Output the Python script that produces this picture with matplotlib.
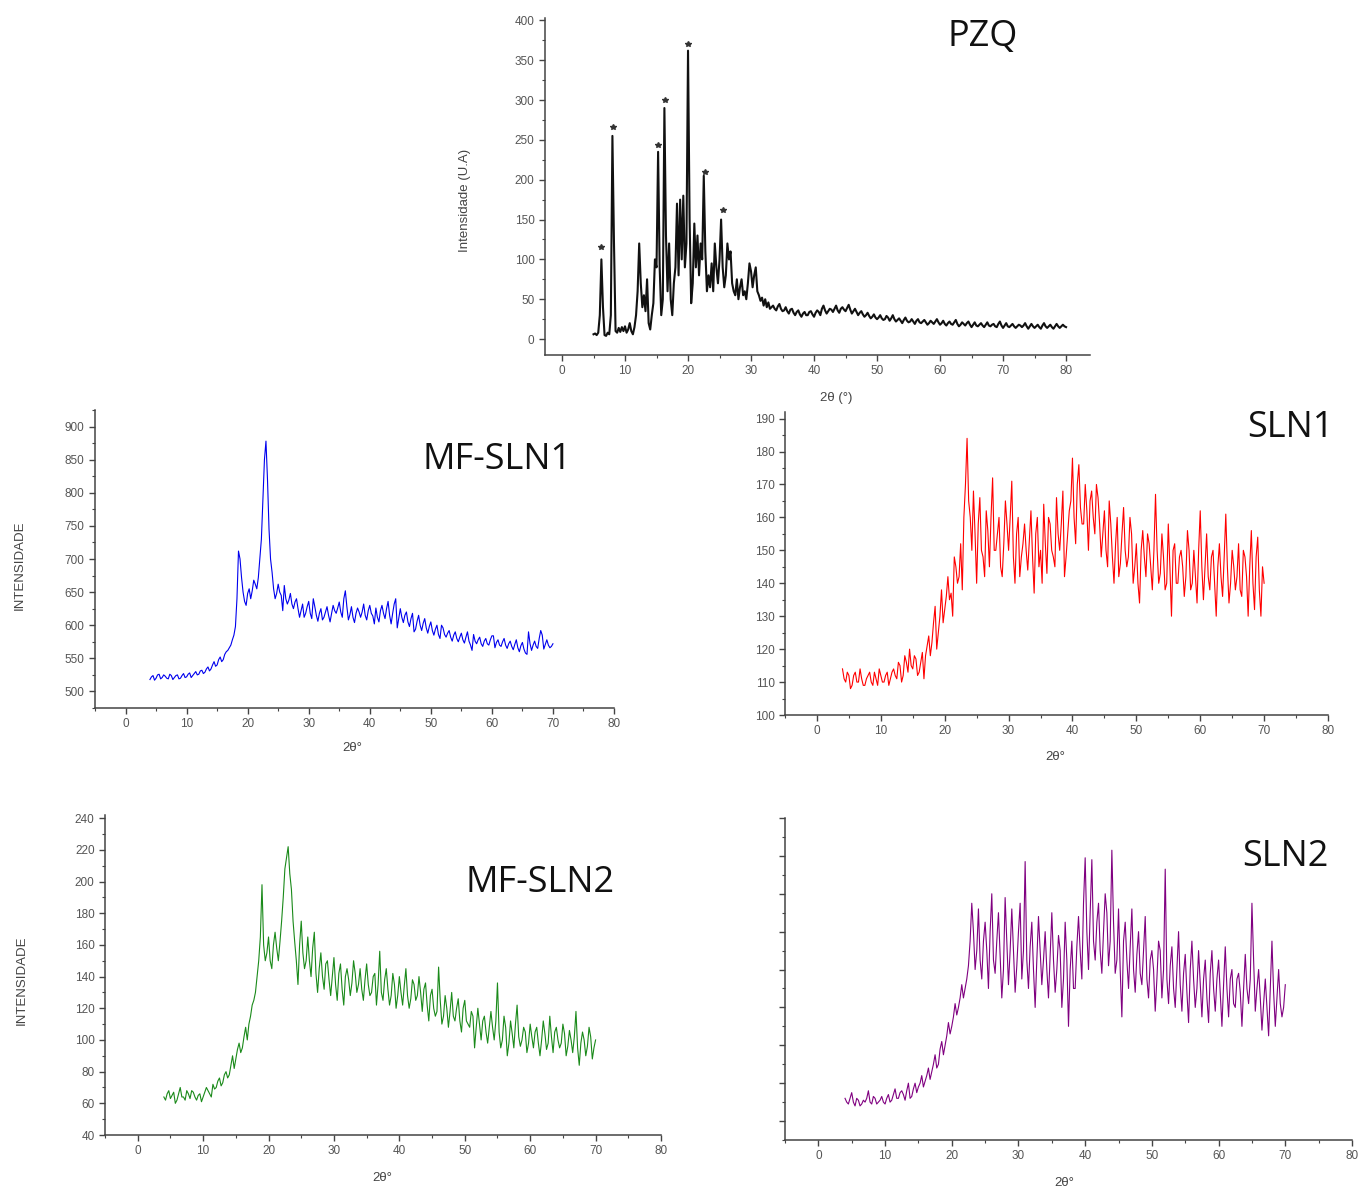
import numpy as np
import matplotlib
matplotlib.use('Agg')
import matplotlib.pyplot as plt
from matplotlib.ticker import MultipleLocator, NullFormatter

W, H = 1365, 1192

# PZQ pattern: fine grid over the crystalline peaks, coarser afterwards
pzq_x = np.concatenate([np.arange(5.0, 33.01, 0.25), np.arange(33.5, 80.01, 0.5)])
pzq_y = [6, 7, 5, 8, 30, 100, 40, 5, 4, 8, 6, 30, 255, 120, 10, 8,
         14, 9, 15, 10, 16, 8, 12, 20, 10, 6, 15, 30, 60, 120, 70, 40,
         55, 35, 75, 20, 12, 30, 45, 100, 90, 235, 90, 30, 50, 290, 130, 60,
         120, 50, 30, 70, 90, 170, 80, 175, 100, 180, 90, 120, 362, 150, 45, 70,
         145, 90, 130, 80, 120, 100, 205, 110, 60, 80, 65, 95, 60, 120, 90, 70,
         100, 150, 90, 65, 80, 120, 100, 110, 70, 60, 55, 75, 50, 65, 75, 55,
         60, 50, 70, 95, 85, 65, 80, 90, 60, 55, 48, 52, 42, 50, 40, 46, 38,
         42, 36, 44, 35, 40, 32, 38, 30, 36, 28, 34, 30, 35, 28, 36, 30,
         42, 32, 38, 34, 42, 33, 40, 35, 43, 32, 38, 30, 35, 28, 33, 26,
         31, 25, 30, 24, 29, 23, 30, 22, 26, 20, 27, 21, 25, 19, 25, 20,
         24, 18, 23, 19, 25, 18, 23, 17, 22, 18, 24, 16, 21, 17, 22, 15,
         21, 16, 20, 15, 21, 16, 19, 15, 22, 14, 20, 15, 19, 14, 18, 15,
         20, 13, 19, 14, 18, 13, 20, 14, 18, 13, 19, 14, 18, 15]
# extra readings in the tail, between the 0.5 degree points
pzq_mid_x = np.arange(33.75, 79.76, 0.5)
pzq_mid_y = [38, 41, 38, 36, 35, 37, 33, 34, 31, 32,
             30, 34, 31, 33, 34, 38, 36, 35, 37, 38,
             36, 38, 37, 39, 37, 35, 34, 33, 31, 30,
             29, 28, 27, 27, 26, 25, 27, 26, 25, 24,
             23, 24, 23, 22, 22, 23, 21, 22, 21, 20,
             21, 22, 21, 20, 19, 20, 19, 21, 19, 18,
             19, 20, 18, 18, 17, 18, 17, 18, 17, 18,
             16, 19, 17, 17, 16, 17, 16, 16, 17, 17,
             16, 16, 16, 16, 15, 17, 16, 16, 15, 16,
             16, 16, 16]
pzq_star_x = [6.2, 8.1, 15.3, 16.4, 20.0, 22.7, 25.6]
pzq_star_y = [116, 266, 244, 300, 370, 210, 162]

# samples: readings every 0.5 deg (4..70) plus the in-between readings (4.25..69.75)
theta = np.arange(4.0, 70.01, 0.25)

mfsln1 = [518, 524, 520, 526, 521, 523, 519, 524, 521, 525, 520, 527, 522, 528, 524, 530,
          526, 532, 529, 537, 534, 545, 540, 552, 548, 560, 566, 578, 598, 712, 672, 636,
          648, 640, 668, 655, 700, 790, 878, 745, 680, 640, 662, 645, 660, 632, 648, 625,
          640, 612, 632, 618, 636, 610, 628, 606, 625, 612, 628, 605, 630, 618, 635, 612,
          652, 608, 628, 604, 626, 612, 632, 608, 630, 614, 626, 605, 630, 610, 636, 602,
          632, 596, 625, 604, 620, 598, 618, 594, 615, 592, 610, 588, 605, 585, 600, 580,
          596, 582, 592, 576, 590, 575, 588, 573, 590, 570, 586, 572, 582, 568, 580, 570,
          584, 566, 578, 568, 580, 565, 576, 563, 578, 560, 574, 558, 590, 562, 576, 565,
          592, 564, 578, 566, 572]
mfsln1_mid = [522, 517, 525, 519, 525, 520, 526, 518, 524, 519,
              524, 521, 526, 521, 527, 525, 531, 527, 534, 531,
              540, 538, 548, 545, 556, 562, 570, 585, 640, 700,
              650, 630, 655, 652, 662, 672, 730, 850, 820, 700,
              655, 648, 650, 622, 640, 638, 632, 635, 625, 622,
              612, 628, 618, 640, 615, 618, 608, 620, 615, 618,
              622, 626, 620, 640, 628, 616, 612, 618, 620, 620,
              615, 622, 618, 602, 612, 622, 618, 625, 615, 618,
              640, 610, 612, 615, 605, 610, 590, 606, 600, 603,
              596, 598, 592, 594, 586, 600, 586, 588, 582, 585,
              580, 582, 578, 582, 576, 562, 576, 578, 572, 576,
              572, 578, 584, 574, 570, 575, 570, 572, 568, 571,
              566, 569, 564, 556, 572, 570, 568, 580, 585, 571,
              570, 568]

sln1 = [114, 110, 112, 109, 113, 110, 111, 109, 112, 110, 113, 109, 112, 110, 113, 111,
        114, 111, 115, 112, 116, 120, 114, 117, 113, 119, 118, 124, 122, 133, 125, 138,
        132, 142, 137, 148, 140, 152, 160, 184, 160, 168, 140, 166, 148, 162, 145, 172,
        150, 160, 142, 165, 150, 171, 140, 160, 148, 158, 144, 162, 137, 160, 150, 164,
        143, 158, 148, 166, 150, 168, 148, 162, 178, 152, 176, 158, 170, 150, 168, 155,
        166, 148, 162, 145, 158, 140, 160, 146, 163, 145, 160, 140, 152, 134, 156, 142,
        152, 138, 167, 140, 155, 138, 158, 130, 152, 140, 150, 136, 156, 138, 150, 134,
        162, 135, 155, 138, 150, 130, 152, 136, 161, 134, 150, 138, 152, 136, 148, 130,
        156, 132, 154, 130, 140]
sln1_mid = [111, 113, 108, 112, 110, 114, 109, 111, 113, 109,
            111, 114, 110, 112, 109, 113, 112, 116, 110, 118,
            113, 115, 118, 112, 116, 111, 121, 118, 128, 120,
            130, 128, 136, 135, 130, 145, 142, 138, 170, 165,
            150, 155, 158, 150, 142, 156, 160, 150, 155, 145,
            152, 158, 160, 148, 155, 142, 152, 150, 153, 148,
            155, 145, 140, 152, 160, 150, 145, 155, 158, 142,
            155, 165, 160, 170, 163, 158, 162, 165, 160, 170,
            158, 155, 150, 165, 148, 152, 142, 155, 150, 148,
            155, 145, 140, 150, 148, 155, 145, 150, 150, 143,
            148, 140, 145, 150, 140, 148, 145, 142, 150, 140,
            142, 150, 145, 145, 142, 148, 140, 145, 142, 148,
            145, 140, 145, 142, 138, 150, 142, 145, 140, 148,
            138, 145]

mfsln2 = [64, 66, 63, 67, 62, 70, 64, 68, 63, 67, 62, 66, 64, 70, 66, 72,
          70, 76, 73, 80, 78, 90, 88, 98, 95, 108, 110, 122, 130, 150, 198, 150,
          165, 145, 168, 150, 175, 208, 222, 195, 162, 135, 175, 145, 165, 140, 168, 130,
          155, 132, 150, 128, 152, 125, 148, 122, 145, 128, 150, 130, 145, 125, 148, 128,
          140, 122, 156, 125, 145, 122, 142, 120, 140, 122, 145, 120, 138, 125, 140, 118,
          136, 112, 132, 115, 146, 110, 128, 108, 130, 112, 126, 105, 125, 110, 118, 95,
          120, 100, 115, 98, 118, 100, 136, 95, 115, 90, 112, 95, 122, 96, 108, 92,
          110, 95, 108, 90, 112, 94, 115, 92, 108, 95, 110, 90, 106, 92, 118, 84,
          105, 90, 108, 88, 100]
mfsln2_mid = [62, 68, 65, 60, 66, 64, 62, 66, 68, 64,
              65, 61, 67, 68, 64, 69, 74, 71, 78, 76,
              84, 82, 94, 92, 102, 100, 115, 125, 140, 165,
              160, 155, 150, 160, 158, 162, 190, 215, 205, 175,
              150, 160, 155, 150, 150, 158, 142, 145, 140, 148,
              138, 140, 135, 142, 132, 140, 138, 136, 142, 135,
              132, 138, 135, 130, 142, 135, 130, 138, 132, 128,
              135, 128, 130, 134, 128, 126, 135, 128, 130, 132,
              122, 128, 120, 118, 125, 115, 120, 118, 115, 120,
              112, 120, 112, 108, 115, 108, 110, 112, 105, 108,
              108, 112, 105, 100, 108, 98, 104, 110, 102, 100,
              105, 98, 102, 105, 98, 100, 104, 98, 102, 105,
              100, 98, 104, 96, 100, 102, 95, 98, 100, 96,
              102, 95]

sln2 = [112, 109, 115, 108, 111, 109, 110, 116, 109, 112, 110, 113, 109, 114, 111, 117,
        112, 116, 111, 120, 113, 120, 118, 124, 121, 128, 126, 135, 130, 142, 140, 152,
        150, 162, 160, 172, 170, 182, 215, 180, 212, 175, 205, 170, 220, 178, 210, 165,
        218, 172, 212, 168, 200, 175, 237, 170, 205, 160, 208, 172, 200, 165, 210, 168,
        198, 160, 205, 150, 195, 170, 208, 175, 239, 180, 238, 185, 215, 178, 220, 182,
        243, 178, 212, 155, 205, 170, 212, 168, 200, 172, 208, 165, 190, 158, 195, 165,
        233, 162, 192, 160, 200, 158, 188, 152, 195, 160, 190, 155, 185, 152, 190, 158,
        185, 150, 192, 155, 180, 160, 178, 150, 188, 162, 215, 158, 180, 148, 175, 145,
        195, 150, 180, 155, 172]
sln2_mid = [110, 112, 110, 112, 108, 111, 112, 110, 113, 109,
            111, 110, 112, 110, 114, 112, 115, 114, 116, 112,
            117, 115, 120, 118, 124, 122, 130, 128, 138, 135,
            145, 146, 155, 156, 165, 165, 175, 195, 200, 190,
            185, 195, 190, 200, 185, 195, 188, 180, 195, 190,
            190, 182, 215, 190, 185, 192, 180, 185, 190, 185,
            180, 188, 185, 180, 190, 175, 185, 180, 170, 192,
            190, 215, 200, 210, 195, 205, 190, 200, 210, 195,
            205, 185, 180, 195, 185, 192, 180, 188, 178, 190,
            175, 185, 180, 175, 190, 180, 175, 182, 170, 180,
            172, 178, 168, 180, 175, 170, 172, 175, 165, 178,
            170, 175, 168, 172, 170, 175, 162, 175, 168, 170,
            170, 175, 185, 170, 165, 162, 160, 170, 168, 165,
            162, 160]


def merge(on_grid, between):
  y = np.empty(len(on_grid) + len(between))
  y[0::2] = on_grid
  y[1::2] = between
  return y


def px(x, y):
  return x / W, 1 - y / H


def make_axes(l, t, r, b):
  ax = fig.add_axes([l / W, 1 - b / H, (r - l) / W, (b - t) / H])
  for s in ['top', 'right']:
    ax.spines[s].set_visible(False)
  for s in ['left', 'bottom']:
    ax.spines[s].set_color('#444444')
    ax.spines[s].set_linewidth(1.1)
  ax.tick_params(which='both', direction='out', colors='#444444',
                 labelcolor='#555555', labelsize=8.5)
  ax.tick_params(which='major', length=4, width=1)
  ax.tick_params(which='minor', length=2.5, width=0.8)
  ax.xaxis.set_major_locator(MultipleLocator(10))
  ax.xaxis.set_minor_locator(MultipleLocator(5))
  return ax


plt.rcParams['font.family'] = ['Liberation Sans', 'DejaVu Sans']
fig = plt.figure(figsize=(W / 100, H / 100), dpi=100)

title_kw = dict(family='Open Sans', fontsize=26, color='#111111', ha='center', va='center')
lab_kw = dict(fontsize=9.5, color='#444444', ha='center', va='center')

# PZQ
px_all = np.concatenate([pzq_x, pzq_mid_x])
py_all = np.concatenate([pzq_y, pzq_mid_y])
order = np.argsort(px_all)
ax = make_axes(545, 18, 1090, 355)
ax.plot(px_all[order], py_all[order], color='#111111', lw=1.5)
ax.plot(pzq_star_x, pzq_star_y, ls='none', marker='*', ms=4, color='#333333')
ax.set_xlim(-2.7, 83.8)
ax.set_ylim(-20, 403)
ax.yaxis.set_major_locator(MultipleLocator(50))
ax.yaxis.set_minor_locator(MultipleLocator(25))
fig.text(*px(983, 37), 'PZQ', **title_kw)
fig.text(*px(465, 200), 'Intensidade (U.A)', rotation=90, **lab_kw)
fig.text(*px(836, 398), '2θ (°)', **lab_kw)

# MF-SLN1
ax = make_axes(95, 410, 614, 708)
ax.plot(theta, merge(mfsln1, mfsln1_mid), color='#0000ee', lw=0.8)
ax.set_xlim(-5, 80)
ax.set_ylim(475, 925)
ax.yaxis.set_major_locator(MultipleLocator(50))
ax.yaxis.set_minor_locator(MultipleLocator(25))
fig.text(*px(497, 460), 'MF-SLN1', **title_kw)
fig.text(*px(20, 565), 'INTENSIDADE', rotation=90, **lab_kw)
fig.text(*px(352, 748), '2θ°', **lab_kw)

# SLN1
ax = make_axes(785, 412, 1328, 715)
ax.plot(theta, merge(sln1, sln1_mid), color='#ff0000', lw=0.8)
ax.set_xlim(-5, 80)
ax.set_ylim(100, 192)
ax.yaxis.set_major_locator(MultipleLocator(10))
ax.yaxis.set_minor_locator(MultipleLocator(5))
fig.text(*px(1290, 428), 'SLN1', **title_kw)
fig.text(*px(1055, 757), '2θ°', **lab_kw)

# MF-SLN2
ax = make_axes(105, 815, 661, 1135)
ax.plot(theta, merge(mfsln2, mfsln2_mid), color='#1a8a1a', lw=0.8)
ax.set_xlim(-5, 80)
ax.set_ylim(40, 242)
ax.yaxis.set_major_locator(MultipleLocator(20))
ax.yaxis.set_minor_locator(MultipleLocator(10))
fig.text(*px(540, 883), 'MF-SLN2', **title_kw)
fig.text(*px(22, 980), 'INTENSIDADE', rotation=90, **lab_kw)
fig.text(*px(382, 1178), '2θ°', **lab_kw)

# SLN2 (no y values printed in the source)
ax = make_axes(785, 818, 1352, 1140)
ax.plot(theta, merge(sln2, sln2_mid), color='#800080', lw=0.8)
ax.set_xlim(-5, 80)
ax.set_ylim(90, 260)
ax.yaxis.set_major_locator(MultipleLocator(20))
ax.yaxis.set_minor_locator(MultipleLocator(10))
ax.yaxis.set_major_formatter(NullFormatter())
fig.text(*px(1285, 857), 'SLN2', **title_kw)
fig.text(*px(1064, 1183), '2θ°', **lab_kw)

fig.savefig('out.png', dpi=100, facecolor='white')
